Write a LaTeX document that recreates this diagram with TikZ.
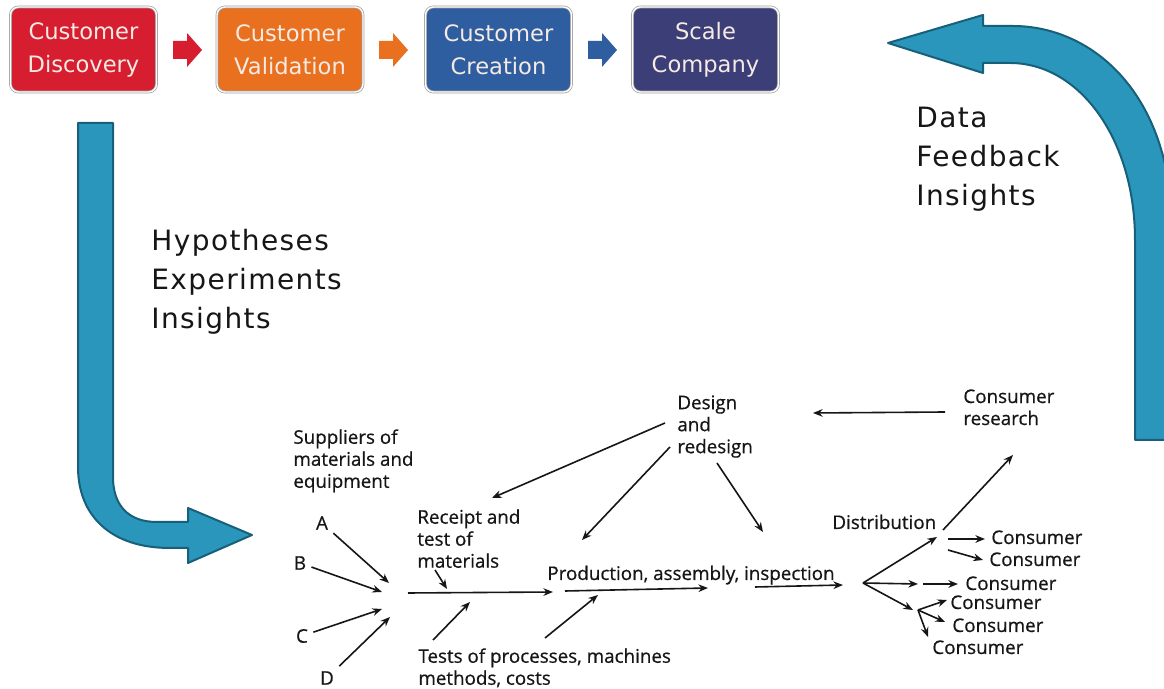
\documentclass[tikz,border=0pt]{standalone}
\usepackage{fontspec}
\setmainfont{DejaVu Sans}
\newfontfamily\lowfont[FakeBold=0.6]{Open Sans}
\newfontfamily\bigfont[LetterSpace=5]{DejaVu Sans}
\usetikzlibrary{arrows.meta}
\definecolor{cred}{RGB}{214,30,48}
\definecolor{corange}{RGB}{232,112,30}
\definecolor{cblue}{RGB}{47,94,160}
\definecolor{cnavy}{RGB}{60,62,120}
\definecolor{boxtext}{RGB}{246,234,228}
\definecolor{tealfill}{RGB}{42,150,188}
\definecolor{tealdark}{RGB}{24,96,122}
\definecolor{ink}{RGB}{22,22,22}
\tikzset{
  stagebox/.style={rounded corners=4pt, minimum width=73pt, minimum height=42.5pt,
    inner sep=0pt, align=center, font=\fontsize{11.3}{16.5}\selectfont, text=boxtext,
    draw=gray!75, double=white, double distance=0.7pt, line width=0.35pt},
  blkarrow/.pic={\path[pic actions] (0,-9) -- (14,-9) -- (14,-17) -- (29,0)
    -- (14,17) -- (14,9) -- (0,9) -- cycle;},
  biglbl/.style={font=\bigfont\fontsize{14}{19.5}\selectfont, text=ink, inner sep=0pt,
    align=left, anchor=north west},
  lbl/.style={font=\lowfont\fontsize{9.4}{11}\selectfont, text=ink, inner sep=0pt,
    align=left, anchor=north west},
  lbl1/.style={font=\lowfont\fontsize{9.4}{11}\selectfont, text=ink, inner sep=0pt,
    anchor=base west},
  letter/.style={font=\lowfont\fontsize{9.4}{11}\selectfont, text=ink, inner sep=2.5pt},
  flow/.style={-{Stealth[length=4.8pt,width=3.8pt]}, line width=0.8pt, draw=ink},
  bigarrow/.style={fill=tealfill, draw=tealdark, line width=1pt, line join=round}
}
\begin{document}
\begin{tikzpicture}[x=0.5pt,y=-0.5pt]
\useasboundingbox (0,0) rectangle (1164,689);
\clip (0,0) rectangle (1164,689);
\fill[white] (0,0) rectangle (1164,689);

% top stage boxes
\node[stagebox, fill=cred]    (s1) at (83.5,49.5)  {Customer\\Discovery};
\node[stagebox, fill=corange] (s2) at (290,49.5)   {Customer\\Validation};
\node[stagebox, fill=cblue]   (s3) at (498.5,49.5) {Customer\\Creation};
\node[stagebox, fill=cnavy]   (s4) at (705.5,49.5) {Scale\\Company};
\pic[fill=cred]    at (173,50) {blkarrow};
\pic[fill=corange] at (379,50) {blkarrow};
\pic[fill=cblue]   at (588,50) {blkarrow};

% big curved arrows
\path[bigarrow] (78,123) -- (113,123) -- (113,477)
  .. controls (113,505) and (128,522) .. (157,522)
  -- (188,522) -- (188,508) -- (252,535) -- (188,563) -- (188,548) -- (170,548)
  .. controls (110,548) and (78,515) .. (78,467) -- cycle;
\path[bigarrow] (888,43) -- (983,15) -- (983,26) -- (1013,26)
  .. controls (1090,26) and (1168,90) .. (1172,220)
  -- (1172,440) -- (1135,440) -- (1135,240)
  .. controls (1135,140) and (1080,63) .. (1010,63)
  -- (983,63) -- (983,73) -- cycle;

% big labels
\node[biglbl] (hyp) at (151,229) {Hypotheses\\Experiments\\Insights};
\node[biglbl] (dat) at (916,107) {Data\\Feedback\\Insights};

% lower diagram labels
\node[lbl] (sup) at (293,429) {Suppliers of\\materials and\\equipment};
\node[letter] (A) at (322,523) {A};
\node[letter] (B) at (300,563) {B};
\node[letter] (C) at (302,636) {C};
\node[letter] (D) at (327,678) {D};
\node[lbl] (rec) at (417,509) {Receipt and\\test of\\materials};
\node[lbl] (tst) at (418,648) {Tests of processes, machines\\methods, costs};
\node[lbl1] (prd) at (547,580) {Production, assembly, inspection};
\node[lbl] (des) at (677,395) {Design\\and\\redesign};
\node[lbl] (cr) at (963,389) {Consumer\\research};
\node[lbl1] (dis) at (832,529) {Distribution};
\node[lbl1] (c1) at (991,544) {Consumer};
\node[lbl1] (c2) at (989,566) {Consumer};
\node[lbl1] (c3) at (965,590) {Consumer};
\node[lbl1] (c4) at (950,609) {Consumer};
\node[lbl1] (c5) at (952,632) {Consumer};
\node[lbl1] (c6) at (932,654) {Consumer};

% connector end points
\coordinate (aE) at (389,583);
\coordinate (bE) at (382,592);
\coordinate (cE) at (382,609);
\coordinate (dE) at (390,617);
\coordinate (l1s) at (408,593);  \coordinate (l1e) at (553,592);
\coordinate (rcS) at (435,570);  \coordinate (rcE) at (447,589);
\coordinate (t1S) at (433,640);  \coordinate (t1E) at (470,602);
\coordinate (t2S) at (545,638);  \coordinate (t2E) at (598,595);
\coordinate (dsA) at (665,423);  \coordinate (dsAe) at (492,498);
\coordinate (dsB) at (670,447);  \coordinate (dsBe) at (582,540);
\coordinate (dsC) at (717,463);  \coordinate (dsCe) at (763,532);
\coordinate (l2s) at (565,591);  \coordinate (l2e) at (708,588);
\coordinate (l3s) at (755,587);  \coordinate (l3e) at (843,585);
\coordinate (crS) at (945,412);  \coordinate (crE) at (813,413);
\coordinate (hub) at (863,583);
\coordinate (f1) at (937,537);
\coordinate (f2) at (918,584);
\coordinate (f3) at (913,610);
\coordinate (upS) at (943,530);  \coordinate (upE) at (1013,455);
\coordinate (k1s) at (948,539);  \coordinate (k1e) at (985,539);
\coordinate (k2s) at (948,550);  \coordinate (k2e) at (983,560);
\coordinate (k3s) at (923,584);  \coordinate (k3e) at (958,584);
\coordinate (hub2) at (918,610);
\coordinate (k4e) at (947,600);
\coordinate (k5e) at (945,622);
\coordinate (k6e) at (928,637);

% connectors
\draw[flow] (A) -- (aE);
\draw[flow] (B) -- (bE);
\draw[flow] (C) -- (cE);
\draw[flow] (D) -- (dE);
\draw[flow] (l1s) -- (l1e);
\draw[flow] (rcS) -- (rcE);
\draw[flow] (t1S) -- (t1E);
\draw[flow] (t2S) -- (t2E);
\draw[flow] (dsA) -- (dsAe);
\draw[flow] (dsB) -- (dsBe);
\draw[flow] (dsC) -- (dsCe);
\draw[flow] (l2s) -- (l2e);
\draw[flow] (l3s) -- (l3e);
\draw[flow] (crS) -- (crE);
\draw[flow] (hub) -- (f1);
\draw[flow] (hub) -- (f2);
\draw[flow] (hub) -- (f3);
\draw[flow] (upS) -- (upE);
\draw[flow] (k1s) -- (k1e);
\draw[flow] (k2s) -- (k2e);
\draw[flow] (k3s) -- (k3e);
\draw[flow] (hub2) -- (k4e);
\draw[flow] (hub2) -- (k5e);
\draw[flow] (hub2) -- (k6e);
\end{tikzpicture}
\end{document}
